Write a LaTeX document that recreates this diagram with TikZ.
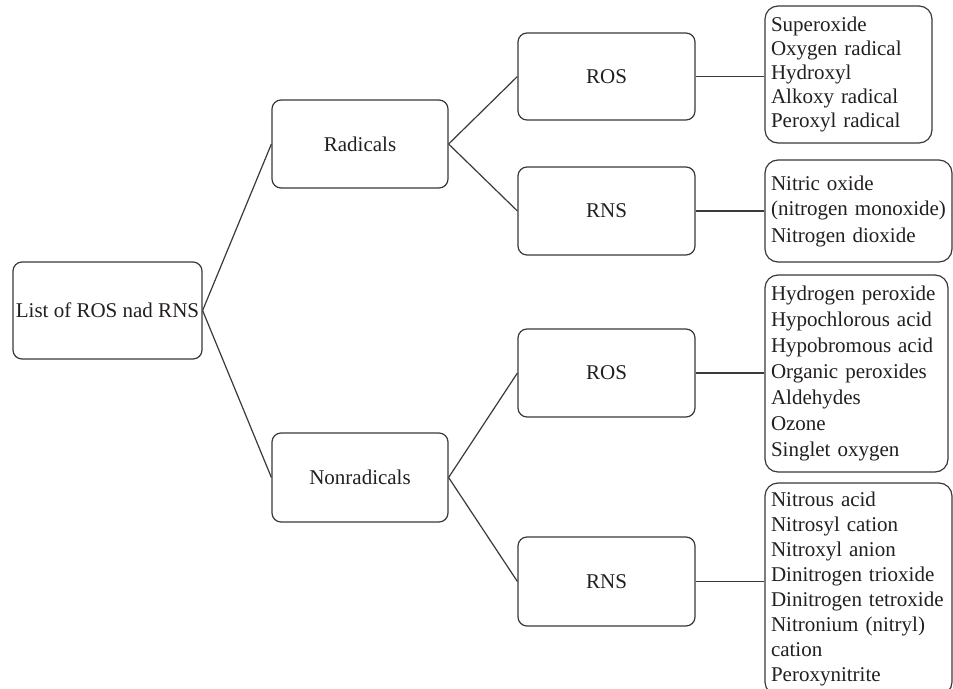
\documentclass[tikz,border=0pt]{standalone}
\usepackage{fontspec}
\setmainfont{Liberation Serif}
\definecolor{linec}{HTML}{3A3A3A}
\definecolor{textc}{HTML}{231F20}
\tikzset{
  box/.style={draw=linec, line width=1.2pt, rounded corners=9pt, inner sep=0pt,
    text=textc, font=\fontsize{21}{25}\selectfont, align=center},
  listbox/.style={box, rounded corners=13pt, align=left, inner xsep=6pt, inner ysep=0pt},
  conn/.style={draw=linec, line width=1.2pt}
}
\begin{document}
\begin{tikzpicture}[x=1pt,y=-1pt]
\useasboundingbox (0,0) rectangle (953,688);
\clip (0,0) rectangle (953,688);
\fill[white] (0,0) rectangle (953,688);
% level 0
\node[box, minimum width=189pt, minimum height=97pt] (root) at (107.5,310.5) {List of ROS nad RNS};
% level 1
\node[box, minimum width=176pt, minimum height=88pt] (rad) at (360,144) {Radicals};
\node[box, minimum width=176pt, minimum height=89pt] (nonrad) at (360,477.5) {Nonradicals};
% level 2
\node[box, minimum width=177pt, minimum height=87pt] (ros1) at (606.5,76.5) {ROS};
\node[box, minimum width=177pt, minimum height=88pt] (rns1) at (606.5,211) {RNS};
\node[box, minimum width=177pt, minimum height=88pt] (ros2) at (606.5,373) {ROS};
\node[box, minimum width=177pt, minimum height=89pt] (rns2) at (606.5,581.5) {RNS};
% lists
\node[listbox, text width=155pt, minimum height=137pt, font=\fontsize{21}{24}\selectfont] (l1) at (848.5,74.5)
  {Superoxide\\Oxygen radical\\Hydroxyl\\Alkoxy radical\\Peroxyl radical};
\node[listbox, text width=175pt, minimum height=102pt] (l2) at (858.5,211)
  {Nitric oxide\\(nitrogen monoxide)\\[2pt]Nitrogen dioxide};
\node[listbox, text width=171pt, minimum height=197pt, font=\fontsize{21}{26}\selectfont] (l3) at (856.5,373.5)
  {Hydrogen peroxide\\Hypochlorous acid\\Hypobromous acid\\Organic peroxides\\Aldehydes\\Ozone\\Singlet oxygen};
\node[listbox, text width=175pt, minimum height=212pt] (l4) at (858.5,589)
  {Nitrous acid\\Nitrosyl cation\\Nitroxyl anion\\Dinitrogen trioxide\\Dinitrogen tetroxide\\Nitronium (nitryl)\\cation\\Peroxynitrite};
% connectors
\draw[conn] (root.east) -- (rad.west);
\draw[conn] (root.east) -- (nonrad.west);
\draw[conn] (rad.east) -- (ros1.west);
\draw[conn] (rad.east) -- (rns1.west);
\draw[conn] (nonrad.east) -- (ros2.west);
\draw[conn] (nonrad.east) -- (rns2.west);
\draw[conn] (ros1.east) -- (ros1.east -| l1.west);
\draw[conn] (rns1.east) -- (rns1.east -| l2.west);
\draw[conn] (ros2.east) -- (ros2.east -| l3.west);
\draw[conn] (rns2.east) -- (rns2.east -| l4.west);
\end{tikzpicture}
\end{document}
